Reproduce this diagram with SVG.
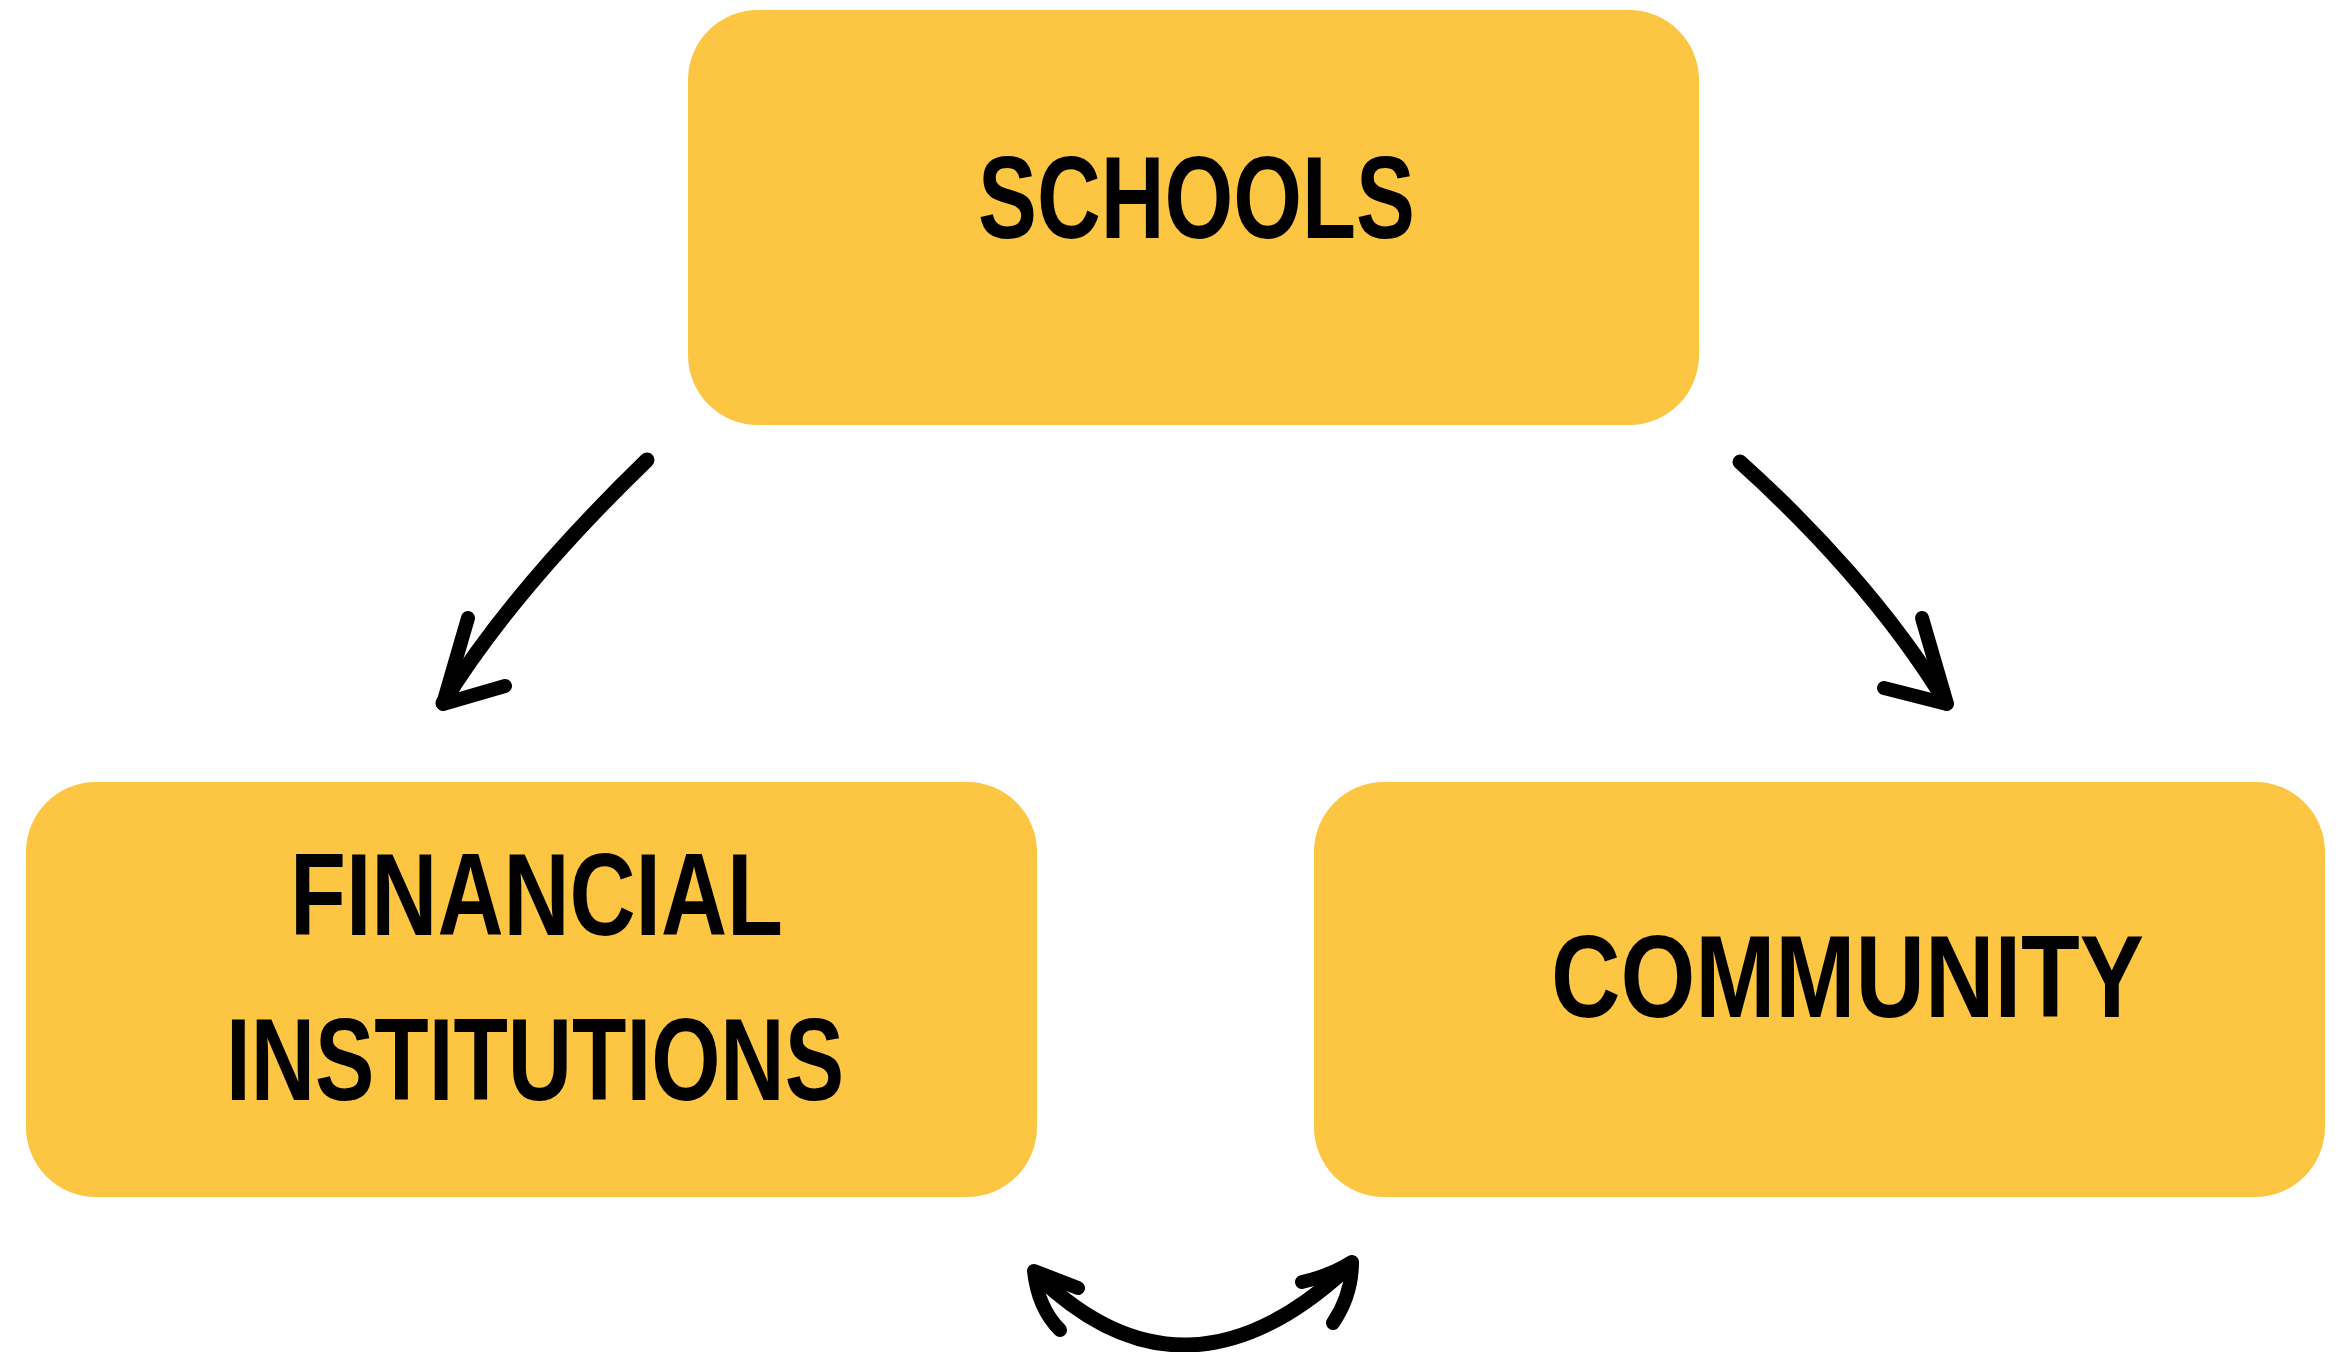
<svg xmlns="http://www.w3.org/2000/svg" width="2344" height="1352" viewBox="0 0 2344 1352">
<style>
.box{fill:#FCC542;}
.lbl{font-family:"Liberation Sans",Arial,sans-serif;font-weight:bold;font-size:116px;fill:#000;}
.con{fill:none;stroke:#000;stroke-width:15;stroke-linecap:round;stroke-linejoin:round;}
.head{fill:none;stroke:#000;stroke-width:14;stroke-linecap:round;stroke-linejoin:round;}
</style>
<rect width="2344" height="1352" fill="#fff"/>
<g id="node-schools">
<rect class="box" x="688" y="10" width="1011" height="415" rx="70" ry="70"/>
<text class="lbl" x="978" y="238" textLength="437" lengthAdjust="spacingAndGlyphs">SCHOOLS</text>
</g>
<g id="node-financial">
<rect class="box" x="26" y="782" width="1011" height="415" rx="70" ry="70"/>
<text class="lbl" x="290" y="935" textLength="493" lengthAdjust="spacingAndGlyphs">FINANCIAL</text>
<text class="lbl" x="226" y="1100" textLength="618" lengthAdjust="spacingAndGlyphs">INSTITUTIONS</text>
</g>
<g id="node-community">
<rect class="box" x="1314" y="782" width="1011" height="415" rx="70" ry="70"/>
<text class="lbl" x="1551" y="1017" textLength="593" lengthAdjust="spacingAndGlyphs">COMMUNITY</text>
</g>
<g id="connectors">
<path class="con" d="M647,460 C580,525 500,610 443,703"/>
<path class="head" d="M468,618 L443,704 L505,686"/>
<path class="con" d="M1740,462 C1810,525 1890,610 1946,703"/>
<path class="head" d="M1922,618 L1947,704 L1884,688"/>
<path class="con" d="M1038,1276 Q1185,1418 1347,1268"/>
<path class="head" d="M1078,1288 L1034,1271 Q1038,1308 1060,1330"/>
<path class="head" d="M1302,1282 Q1330,1276 1352,1262 Q1352,1295 1333,1323"/>
</g>
</svg>
